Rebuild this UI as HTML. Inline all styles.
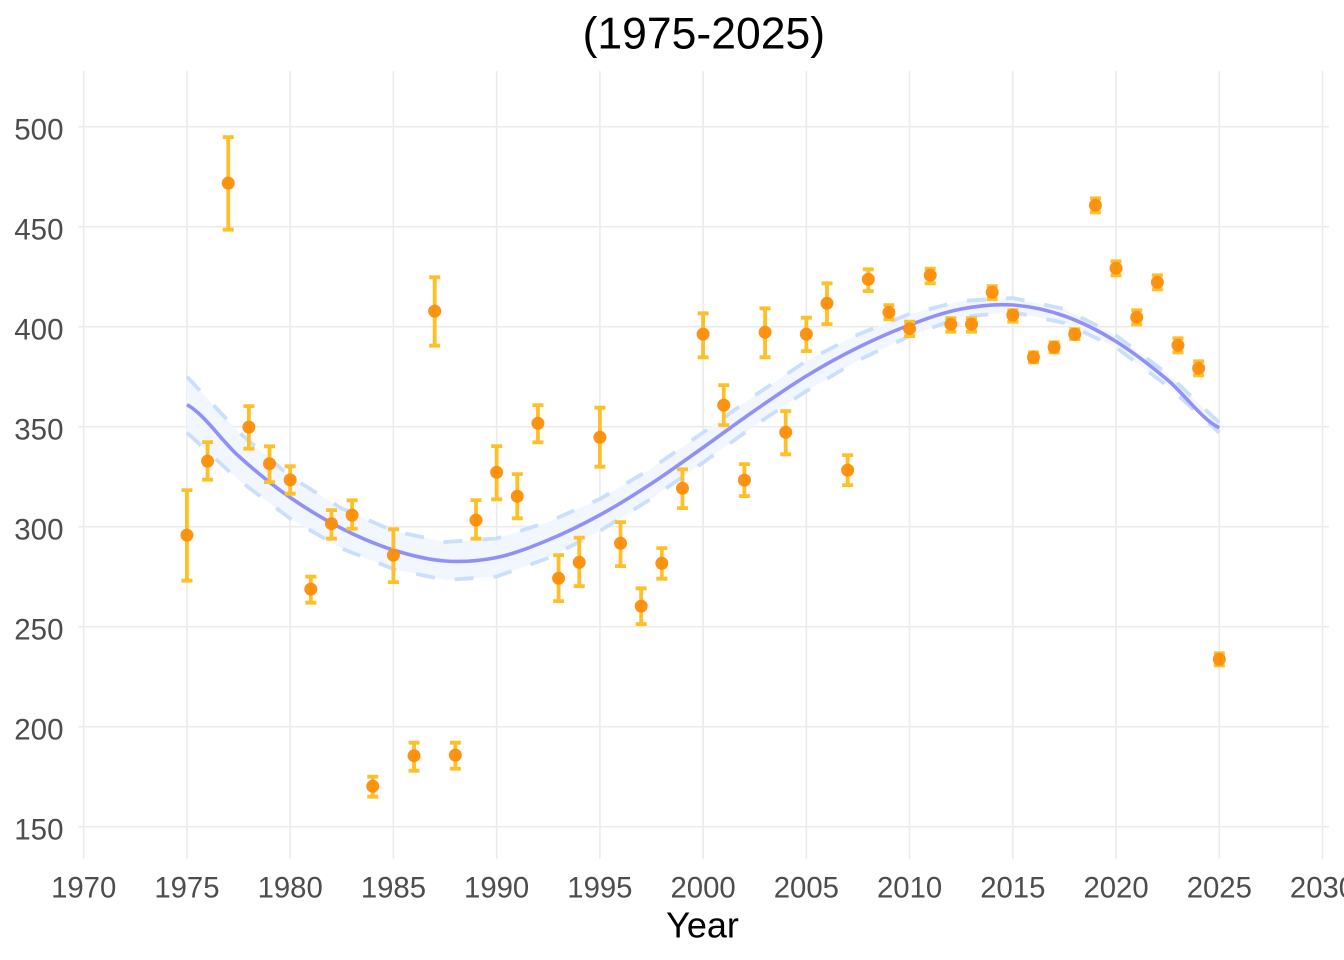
<!DOCTYPE html>
<html>
<head>
<meta charset="utf-8">
<style>
html,body{margin:0;padding:0;background:#fff;}
svg{display:block;}
text{font-family:"Liberation Sans",Arial,sans-serif;}
</style>
</head>
<body>
<svg width="1344" height="960" viewBox="0 0 1344 960" xmlns="http://www.w3.org/2000/svg">
<rect x="0" y="0" width="1344" height="960" fill="#ffffff"/>
<g stroke="#ebebeb" stroke-width="1.6" fill="none">
<path d="M78,826.7H1329M78,726.7H1329M78,626.7H1329M78,526.7H1329M78,426.7H1329M78,326.7H1329M78,226.7H1329M78,126.7H1329"/>
<path d="M83.7,71V859M186.94,71V859M290.17,71V859M393.41,71V859M496.64,71V859M599.88,71V859M703.11,71V859M806.35,71V859M909.58,71V859M1012.82,71V859M1116.05,71V859M1219.29,71V859M1322.52,71V859"/>
</g>
<polygon fill="#f0f6ff" fill-opacity="0.95" points="186.94,376.7 238.56,432 290.18,476.5 341.79,508.5 393.41,531 445.03,542 496.65,538.5 548.26,522 599.88,499 651.5,468.5 703.12,432.5 754.73,395.5 806.35,361 857.97,334.5 909.59,314 961.2,301 1012.82,298 1064.44,309 1116.06,335.5 1167.67,374 1219.29,422.7 1219.29,432.7 1167.67,386 1116.06,347.5 1064.44,323 1012.82,312 961.2,317 909.59,336 857.97,360.5 806.35,391 754.73,425.5 703.12,462.5 651.5,498.5 599.88,531 548.26,558 496.65,576.5 445.03,580 393.41,569 341.79,548.5 290.18,518.5 238.56,480 186.94,432.7"/>
<g fill="none" stroke="#c9dffb" stroke-width="3.8" stroke-dasharray="19 20" stroke-linejoin="round">
<polyline points="186.94,376.7 238.56,432 290.18,476.5 341.79,508.5 393.41,531 445.03,542 496.65,538.5 548.26,522 599.88,499 651.5,468.5 703.12,432.5 754.73,395.5 806.35,361 857.97,334.5 909.59,314 961.2,301 1012.82,298 1064.44,309 1116.06,335.5 1167.67,374 1219.29,422.7"/>
<polyline points="186.94,432.7 238.56,480 290.18,518.5 341.79,548.5 393.41,569 445.03,580 496.65,576.5 548.26,558 599.88,531 651.5,498.5 703.12,462.5 754.73,425.5 806.35,391 857.97,360.5 909.59,336 961.2,317 1012.82,312 1064.44,323 1116.06,347.5 1167.67,386 1219.29,432.7"/>
</g>
<path fill="none" stroke="#9090f6" stroke-width="3.6" d="M186.94,404.7 C204.15,414 221.35,440.5 238.56,456 S272.97,485.7 290.18,497.5 S324.58,519.75 341.79,528.5 S376.2,544.6 393.41,550 S427.82,559.75 445.03,561 S479.44,561 496.65,557.5 S531.05,547.1 548.26,540 S582.67,524.4 599.88,515 S634.29,494.75 651.5,483.5 S685.91,459.7 703.12,447.5 S737.52,422.4 754.73,410.5 S789.14,386.5 806.35,376 S840.76,356 857.97,347.5 S892.38,331.4 909.59,325 S943.99,312.3 961.2,309 S995.61,303.8 1012.82,305 S1047.23,309.9 1064.44,316 S1098.85,330.8 1116.06,341.5 S1150.46,365.6 1167.67,380 S1202.08,419.75 1219.29,427.7"/>
<g fill="none" stroke="#ffbf27" stroke-width="3.8">
<path d="M186.94,490.1V580.7M181.44,490.1H192.44M181.44,580.7H192.44"/>
<path d="M207.58,442.1V479.7M202.08,442.1H213.08M202.08,479.7H213.08"/>
<path d="M228.23,137.1V229.7M222.73,137.1H233.73M222.73,229.7H233.73"/>
<path d="M248.88,406.1V448.7M243.38,406.1H254.38M243.38,448.7H254.38"/>
<path d="M269.52,446.3V482.1M264.02,446.3H275.02M264.02,482.1H275.02"/>
<path d="M290.17,466.3V493.7M284.67,466.3H295.67M284.67,493.7H295.67"/>
<path d="M310.82,576.7V602.7M305.32,576.7H316.32M305.32,602.7H316.32"/>
<path d="M331.46,510.1V538.7M325.96,510.1H336.96M325.96,538.7H336.96"/>
<path d="M352.11,500.3V528.7M346.61,500.3H357.61M346.61,528.7H357.61"/>
<path d="M372.76,776.7V796.7M367.26,776.7H378.26M367.26,796.7H378.26"/>
<path d="M393.41,529.3V582.1M387.91,529.3H398.91M387.91,582.1H398.91"/>
<path d="M414.05,742.7V770.7M408.55,742.7H419.55M408.55,770.7H419.55"/>
<path d="M434.7,277.3V345.7M429.2,277.3H440.2M429.2,345.7H440.2"/>
<path d="M455.35,742.7V768.7M449.85,742.7H460.85M449.85,768.7H460.85"/>
<path d="M475.99,500.1V538.7M470.49,500.1H481.49M470.49,538.7H481.49"/>
<path d="M496.64,446.1V499.3M491.14,446.1H502.14M491.14,499.3H502.14"/>
<path d="M517.29,474.1V518.3M511.79,474.1H522.79M511.79,518.3H522.79"/>
<path d="M537.93,405.1V442.3M532.43,405.1H543.43M532.43,442.3H543.43"/>
<path d="M558.58,555.1V601.1M553.08,555.1H564.08M553.08,601.1H564.08"/>
<path d="M579.23,537.7V586.1M573.73,537.7H584.73M573.73,586.1H584.73"/>
<path d="M599.88,407.7V466.7M594.38,407.7H605.38M594.38,466.7H605.38"/>
<path d="M620.52,522.1V566.1M615.02,522.1H626.02M615.02,566.1H626.02"/>
<path d="M641.17,588.3V624.1M635.67,588.3H646.67M635.67,624.1H646.67"/>
<path d="M661.82,548.1V578.7M656.32,548.1H667.32M656.32,578.7H667.32"/>
<path d="M682.46,469.3V508.1M676.96,469.3H687.96M676.96,508.1H687.96"/>
<path d="M703.11,313.3V357.3M697.61,313.3H708.61M697.61,357.3H708.61"/>
<path d="M723.76,385.1V425.1M718.26,385.1H729.26M718.26,425.1H729.26"/>
<path d="M744.4,464.1V496.1M738.9,464.1H749.9M738.9,496.1H749.9"/>
<path d="M765.05,308.3V357.3M759.55,308.3H770.55M759.55,357.3H770.55"/>
<path d="M785.7,411.1V454.3M780.2,411.1H791.2M780.2,454.3H791.2"/>
<path d="M806.35,317.7V351.1M800.85,317.7H811.85M800.85,351.1H811.85"/>
<path d="M826.99,283.3V324.1M821.49,283.3H832.49M821.49,324.1H832.49"/>
<path d="M847.64,455.1V485.1M842.14,455.1H853.14M842.14,485.1H853.14"/>
<path d="M868.29,269.3V291.1M862.79,269.3H873.79M862.79,291.1H873.79"/>
<path d="M888.93,305.1V319.3M883.43,305.1H894.43M883.43,319.3H894.43"/>
<path d="M909.58,321.7V336.1M904.08,321.7H915.08M904.08,336.1H915.08"/>
<path d="M930.23,268.7V283.3M924.73,268.7H935.73M924.73,283.3H935.73"/>
<path d="M950.87,318.1V331.7M945.37,318.1H956.37M945.37,331.7H956.37"/>
<path d="M971.52,318.1V331.7M966.02,318.1H977.02M966.02,331.7H977.02"/>
<path d="M992.17,286.1V299.1M986.67,286.1H997.67M986.67,299.1H997.67"/>
<path d="M1012.82,310.1V321.7M1007.32,310.1H1018.32M1007.32,321.7H1018.32"/>
<path d="M1033.46,352.3V362.3M1027.96,352.3H1038.96M1027.96,362.3H1038.96"/>
<path d="M1054.11,342.3V352.3M1048.61,342.3H1059.61M1048.61,352.3H1059.61"/>
<path d="M1074.76,329.1V339.1M1069.26,329.1H1080.26M1069.26,339.1H1080.26"/>
<path d="M1095.4,198.3V212.3M1089.9,198.3H1100.9M1089.9,212.3H1100.9"/>
<path d="M1116.05,261.3V275.3M1110.55,261.3H1121.55M1110.55,275.3H1121.55"/>
<path d="M1136.7,310.3V324.3M1131.2,310.3H1142.2M1131.2,324.3H1142.2"/>
<path d="M1157.34,275.3V289.3M1151.84,275.3H1162.84M1151.84,289.3H1162.84"/>
<path d="M1177.99,338.3V352.3M1172.49,338.3H1183.49M1172.49,352.3H1183.49"/>
<path d="M1198.64,361.3V375.3M1193.14,361.3H1204.14M1193.14,375.3H1204.14"/>
<path d="M1219.29,653.3V665.3M1213.79,653.3H1224.79M1213.79,665.3H1224.79"/>
</g>
<g fill="#fb8d0a" fill-opacity="0.95">
<circle cx="186.94" cy="535.1" r="6.5"/>
<circle cx="207.58" cy="461.1" r="6.5"/>
<circle cx="228.23" cy="183.1" r="6.5"/>
<circle cx="248.88" cy="427.1" r="6.5"/>
<circle cx="269.52" cy="463.7" r="6.5"/>
<circle cx="290.17" cy="479.9" r="6.5"/>
<circle cx="310.82" cy="589.1" r="6.5"/>
<circle cx="331.46" cy="523.7" r="6.5"/>
<circle cx="352.11" cy="515.1" r="6.5"/>
<circle cx="372.76" cy="786.3" r="6.5"/>
<circle cx="393.41" cy="555.1" r="6.5"/>
<circle cx="414.05" cy="755.7" r="6.5"/>
<circle cx="434.7" cy="311.1" r="6.5"/>
<circle cx="455.35" cy="755.1" r="6.5"/>
<circle cx="475.99" cy="520.1" r="6.5"/>
<circle cx="496.64" cy="472.3" r="6.5"/>
<circle cx="517.29" cy="496.3" r="6.5"/>
<circle cx="537.93" cy="423.3" r="6.5"/>
<circle cx="558.58" cy="578.3" r="6.5"/>
<circle cx="579.23" cy="562.3" r="6.5"/>
<circle cx="599.88" cy="437.3" r="6.5"/>
<circle cx="620.52" cy="543.3" r="6.5"/>
<circle cx="641.17" cy="606.1" r="6.5"/>
<circle cx="661.82" cy="563.3" r="6.5"/>
<circle cx="682.46" cy="488.3" r="6.5"/>
<circle cx="703.11" cy="334.1" r="6.5"/>
<circle cx="723.76" cy="405.1" r="6.5"/>
<circle cx="744.4" cy="480.1" r="6.5"/>
<circle cx="765.05" cy="332.3" r="6.5"/>
<circle cx="785.7" cy="432.3" r="6.5"/>
<circle cx="806.35" cy="334.1" r="6.5"/>
<circle cx="826.99" cy="303.3" r="6.5"/>
<circle cx="847.64" cy="470.1" r="6.5"/>
<circle cx="868.29" cy="279.3" r="6.5"/>
<circle cx="888.93" cy="312.3" r="6.5"/>
<circle cx="909.58" cy="328.7" r="6.5"/>
<circle cx="930.23" cy="275.3" r="6.5"/>
<circle cx="950.87" cy="324.3" r="6.5"/>
<circle cx="971.52" cy="324.3" r="6.5"/>
<circle cx="992.17" cy="292.3" r="6.5"/>
<circle cx="1012.82" cy="315.1" r="6.5"/>
<circle cx="1033.46" cy="357.3" r="6.5"/>
<circle cx="1054.11" cy="347.3" r="6.5"/>
<circle cx="1074.76" cy="334.1" r="6.5"/>
<circle cx="1095.4" cy="205.3" r="6.5"/>
<circle cx="1116.05" cy="268.3" r="6.5"/>
<circle cx="1136.7" cy="317.3" r="6.5"/>
<circle cx="1157.34" cy="282.3" r="6.5"/>
<circle cx="1177.99" cy="345.3" r="6.5"/>
<circle cx="1198.64" cy="368.3" r="6.5"/>
<circle cx="1219.29" cy="659.3" r="6.5"/>
</g>
<g fill="#4d4d4d" font-size="29.5" text-anchor="end">
<text x="63.5" y="839.3">150</text>
<text x="63.5" y="739.3">200</text>
<text x="63.5" y="639.3">250</text>
<text x="63.5" y="539.3">300</text>
<text x="63.5" y="439.3">350</text>
<text x="63.5" y="339.3">400</text>
<text x="63.5" y="239.3">450</text>
<text x="63.5" y="139.3">500</text>
</g>
<g fill="#4d4d4d" font-size="29.3" text-anchor="middle">
<text x="83.7" y="897.3">1970</text>
<text x="186.94" y="897.3">1975</text>
<text x="290.17" y="897.3">1980</text>
<text x="393.41" y="897.3">1985</text>
<text x="496.64" y="897.3">1990</text>
<text x="599.88" y="897.3">1995</text>
<text x="703.11" y="897.3">2000</text>
<text x="806.35" y="897.3">2005</text>
<text x="909.58" y="897.3">2010</text>
<text x="1012.82" y="897.3">2015</text>
<text x="1116.05" y="897.3">2020</text>
<text x="1219.29" y="897.3">2025</text>
<text x="1322.52" y="897.3">2030</text>
</g>
<text x="702.5" y="937.3" font-size="36" text-anchor="middle" fill="#000">Year</text>
<text x="703.8" y="48.3" font-size="44.5" text-anchor="middle" fill="#000">(1975-2025)</text>
</svg>
</body>
</html>
